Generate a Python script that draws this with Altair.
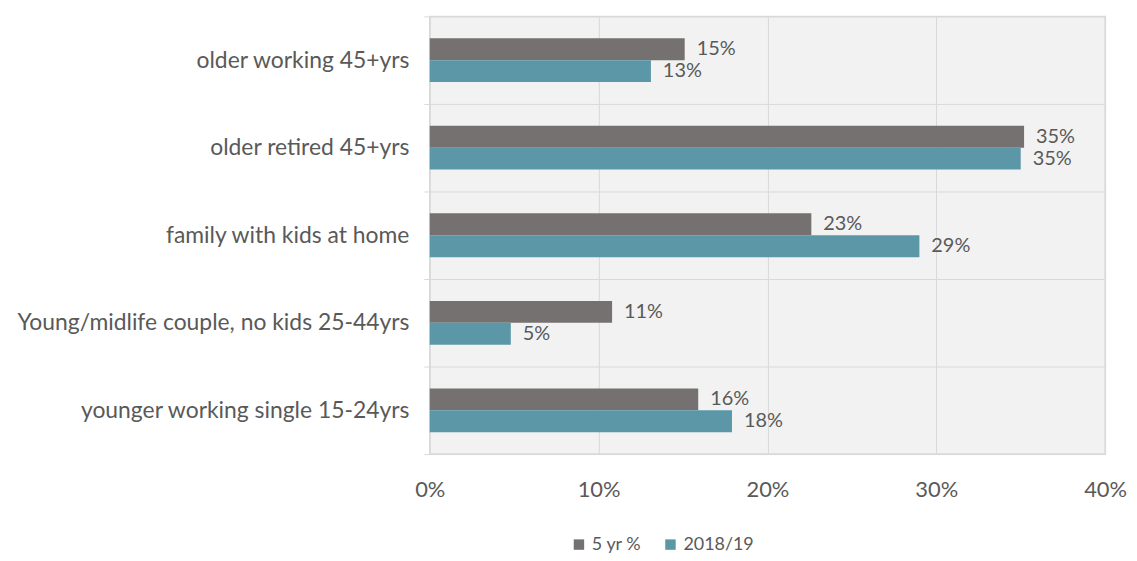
import altair as alt
import pandas as pd

categories = ["older working 45+yrs", "older retired 45+yrs", "family with kids at home",
              "Young/midlife couple, no kids 25-44yrs", "younger working single 15-24yrs"]
series = ["5 yr %", "2018/19"]
five_yr = [15.1, 35.2, 22.6, 10.8, 15.9]
y2018 = [13.1, 35.0, 29.0, 4.8, 17.9]
labels_5 = ["15%", "35%", "23%", "11%", "16%"]
labels_18 = ["13%", "35%", "29%", "5%", "18%"]

rows = []
for c, a, b, la, lb in zip(categories, five_yr, y2018, labels_5, labels_18):
    rows.append({"cat": c, "series": series[0], "value": a, "label": la})
    rows.append({"cat": c, "series": series[1], "value": b, "label": lb})
df = pd.DataFrame(rows)

FONT = "Lato"
TXT = "#595959"

y_enc = alt.Y("cat:N", sort=categories, title=None,
              scale=alt.Scale(paddingInner=0, paddingOuter=0),
              axis=alt.Axis(bandPosition=0, grid=True, gridColor="#d9d9d9", domain=False,
                            ticks=True, tickSize=6, tickColor="#d9d9d9", tickBand="extent",
                            labelFontSize=23, labelColor=TXT, labelFont=FONT, labelPadding=15,
                            labelLimit=0))
yoff = alt.YOffset("series:N", sort=series, scale=alt.Scale(paddingOuter=1, paddingInner=0))
x_enc = alt.X("value:Q", title=None,
              scale=alt.Scale(domain=[0, 40], nice=False),
              axis=alt.Axis(values=[0, 10, 20, 30, 40], labelExpr="datum.value + '%'",
                            grid=True, gridColor="#d9d9d9", domain=False, ticks=False,
                            labelFontSize=22, labelColor=TXT, labelFont=FONT, labelPadding=26,
                            labelFlush=False))

bars = alt.Chart(df).mark_bar(size=22).encode(
    y=y_enc, yOffset=yoff, x=x_enc,
    color=alt.Color("series:N", sort=series,
                    scale=alt.Scale(domain=series, range=["#767171", "#5B97A7"]),
                    legend=alt.Legend(title=None, orient="none", direction="horizontal",
                                      legendX=141, legendY=522, symbolType="square",
                                      symbolSize=110, symbolStrokeWidth=0,
                                      labelFontSize=18, labelColor=TXT, labelFont=FONT,
                                      columnPadding=20, symbolOffset=0, labelOffset=4)),
)

text = alt.Chart(df).mark_text(align="left", baseline="middle", dx=12, fontSize=20,
                               color=TXT, font=FONT).encode(
    y=alt.Y("cat:N", sort=categories), yOffset=yoff, x="value:Q", text="label:N")

chart = (bars + text).properties(
    width=679, height=440,
    autosize=alt.AutoSizeParams(type="none"),
    padding={"left": 424, "top": 7, "right": 24, "bottom": 100},
).configure_view(fill="#f2f2f2", stroke="#d9d9d9", strokeWidth=1.5)

chart.save("out.html", embed_options={"renderer": "svg", "actions": False})
